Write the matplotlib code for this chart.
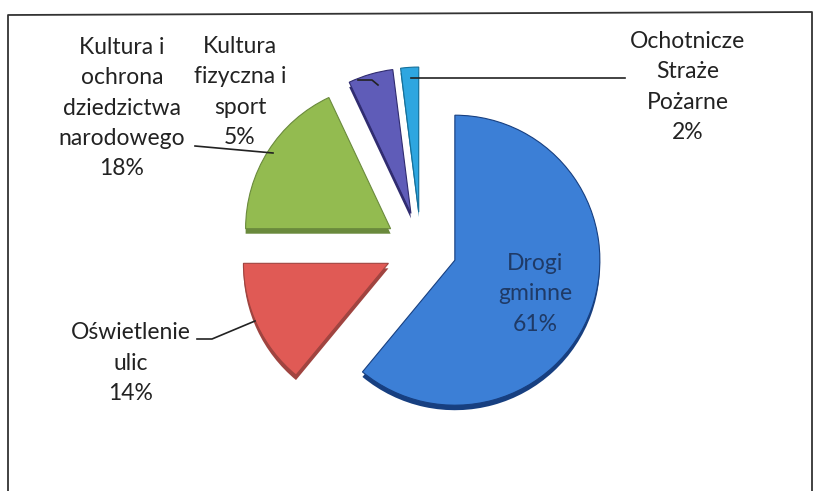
import matplotlib
matplotlib.use("Agg")
import matplotlib.pyplot as plt

# dane: udział wydatków (%)
categories = ["Drogi gminne", "Oświetlenie ulic", "Kultura i ochrona dziedzictwa narodowego",
              "Kultura fizyczna i sport", "Ochotnicze Straże Pożarne"]
shares = [61, 14, 18, 5, 2]
label_texts = ["Drogi\ngminne\n61%", "Oświetlenie\nulic\n14%",
               "Kultura i\nochrona\ndziedzictwa\nnarodowego\n18%",
               "Kultura\nfizyczna i\nsport\n5%", "Ochotnicze\nStraże\nPożarne\n2%"]

colors = ["#3c7fd6", "#e05a55", "#93bb50", "#5f5cb8", "#2ea6e0"]
dark = ["#173f80", "#a04440", "#6a8a3c", "#302c70", "#16709a"]

W, H = 820, 491
fig = plt.figure(figsize=(W / 100, H / 100), dpi=100)
ax = fig.add_axes([0, 0, 1, 1])

cx, cy, r, expl = 421, H - 248, 145, 36
# "grubość" 3D - ciemniejsza kopia przesunięta w dół
ax.pie(shares, colors=dark, startangle=90, counterclock=False, radius=r,
       center=(cx, cy - 5), explode=[expl] * len(shares), frame=True)
wedges, _ = ax.pie(shares, colors=colors, startangle=90, counterclock=False, radius=r,
                   center=(cx, cy), explode=[expl] * len(shares), frame=True,
                   wedgeprops=dict(linewidth=0.8))
for w, d in zip(wedges, dark):
    w.set_edgecolor(d)
ax.set_xlim(0, W); ax.set_ylim(0, H); ax.set_aspect("equal"); ax.axis("off")

fs = 16.5
fam = ["Lato", "DejaVu Sans"]
tc = "#222222"
kw = dict(ha="center", va="center", fontsize=fs, family=fam, linespacing=1.53)
ax.text(535, H - 294, label_texts[0], color="#1f3a66", **kw)
ax.text(131, H - 363, label_texts[1], color=tc, **kw)
ax.text(122, H - 108, label_texts[2], color=tc, **kw)
ax.text(240, H - 92, label_texts[3], color=tc, **kw)
ax.text(688, H - 87, label_texts[4], color=tc, **kw)

# linie odniesienia
lk = dict(color="#222222", lw=1.2)
ax.plot([195, 273], [H - 146, H - 153], **lk)
ax.plot([197, 212, 255], [H - 339, H - 339, H - 321], **lk)
ax.plot([358, 372, 378], [H - 80, H - 80, H - 85], **lk)
ax.plot([411, 625], [H - 78, H - 78], **lk)

# ramka wykresu
ax.plot([8, 8, 812, 812], [0, H - 15, H - 12, 0], color="#333333", lw=1.3)

fig.savefig("out.png", dpi=100)
